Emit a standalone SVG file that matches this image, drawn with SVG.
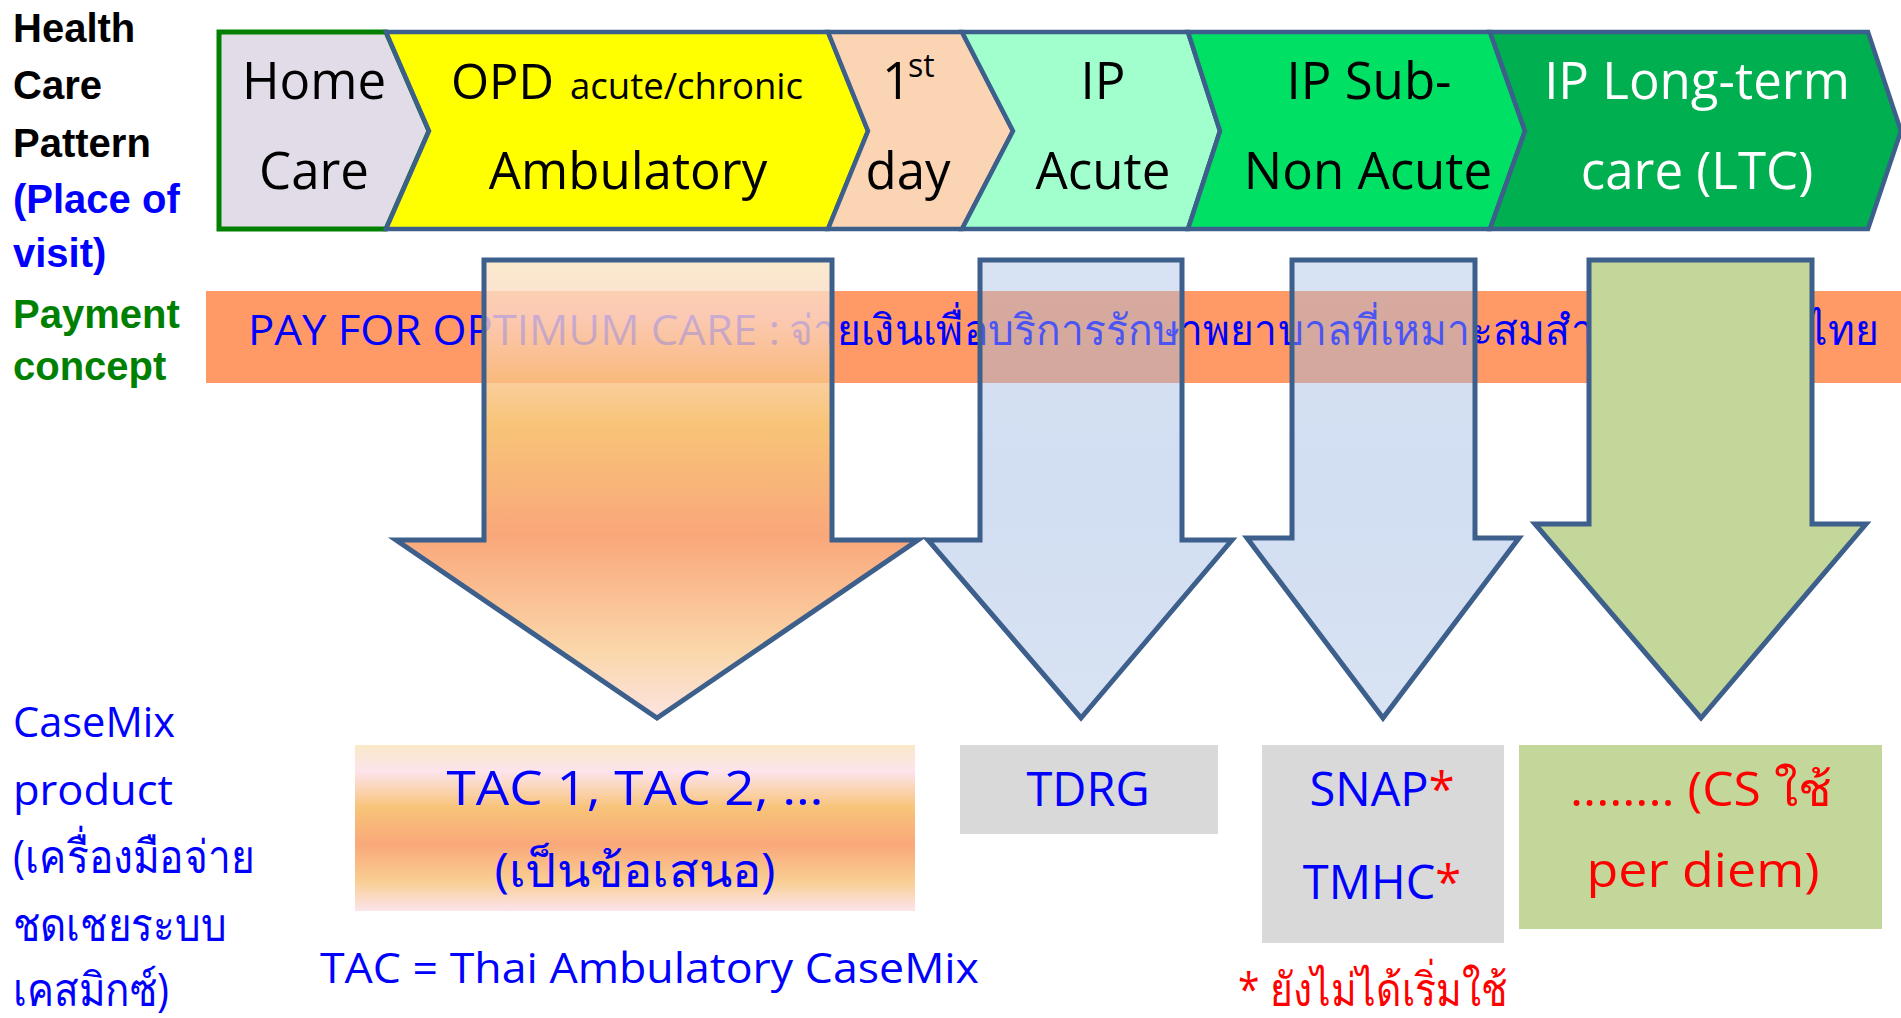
<svg xmlns="http://www.w3.org/2000/svg" width="1901" height="1018" viewBox="0 0 1901 1018">
<style>
.lbl{font-family:"Liberation Sans",Arial,"Noto Sans",sans-serif;font-weight:bold;font-size:40px}
.k{fill:#000}
.b{fill:#0000FF}
.g{fill:#008000}
.r{fill:#FF0000}
.w{fill:#FFFFFF}
.t{font-family:"Open Sans","Noto Sans","DejaVu Sans",sans-serif;font-size:51px;text-anchor:middle}
.th{font-family:"Open Sans","Noto Sans","DejaVu Sans",sans-serif;font-size:42px}
.thai{font-size:46px}
.bx{font-family:"Open Sans","Noto Sans","DejaVu Sans",sans-serif;font-size:47px;text-anchor:middle}
.chev{stroke:#3D5F8B;stroke-width:4.5;stroke-linejoin:miter}
.arr{stroke:#3D5F8B;stroke-width:5;stroke-linejoin:miter}
</style>
<defs>
<linearGradient id="gA1" x1="0" y1="260" x2="0" y2="720" gradientUnits="userSpaceOnUse">
<stop offset="0" stop-color="#F9E5C1"/>
<stop offset="0.12" stop-color="#FBD6C7"/>
<stop offset="0.36" stop-color="#F6B556"/>
<stop offset="0.6" stop-color="#F89159"/>
<stop offset="0.85" stop-color="#F9CD95"/>
<stop offset="1" stop-color="#FBDDDA"/>
</linearGradient>
<linearGradient id="gBlue" x1="0" y1="260" x2="0" y2="720" gradientUnits="userSpaceOnUse">
<stop offset="0" stop-color="#A8BFE5"/>
<stop offset="0.5" stop-color="#9AB5E1"/>
<stop offset="1" stop-color="#A9C0E5"/>
</linearGradient>
<linearGradient id="gTac" x1="0" y1="0" x2="0" y2="1">
<stop offset="0" stop-color="#FAE8C8"/>
<stop offset="0.16" stop-color="#FCE4EC"/>
<stop offset="0.38" stop-color="#F8C378"/>
<stop offset="0.6" stop-color="#F9A87A"/>
<stop offset="0.82" stop-color="#F9CE92"/>
<stop offset="1" stop-color="#FCE4EC"/>
</linearGradient>
</defs>

<g id="row-labels">
<text class="lbl k" x="13" y="42">Health</text>
<text class="lbl k" x="13" y="99">Care</text>
<text class="lbl k" x="13" y="157">Pattern</text>
<text class="lbl b" x="13" y="213">(Place of</text>
<text class="lbl b" x="13" y="267">visit)</text>
<text class="lbl g" x="13" y="328">Payment</text>
<text class="lbl g" x="13" y="380">concept</text>
</g>

<g id="casemix-label">
<text class="th b" x="13" y="737" textLength="162" lengthAdjust="spacingAndGlyphs">CaseMix</text>
<text class="th b" x="13" y="805" textLength="160" lengthAdjust="spacingAndGlyphs">product</text>
<text class="th thai b" x="13" y="873" textLength="242" lengthAdjust="spacingAndGlyphs">(เครื่องมือจ่าย</text>
<text class="th thai b" x="13" y="941" textLength="213" lengthAdjust="spacingAndGlyphs">ชดเชยระบบ</text>
<text class="th thai b" x="13" y="1006" textLength="156" lengthAdjust="spacingAndGlyphs">เคสมิกซ์)</text>
</g>

<g id="chevrons">
<g id="home-care">
<path d="M219,32 L386,32 L429,131 L386,229 L219,229 Z" fill="#E1DCE8" stroke="#008000" stroke-width="5"/>
<text class="t k" x="314" y="99">Home</text>
<text class="t k" x="314" y="189">Care</text>
</g>
<g id="opd">
<path class="chev" d="M386,32 L828,32 L868,131 L828,229 L386,229 L429,131 Z" fill="#FFFF00"/>
<text class="k" x="451" y="99" font-family="Open Sans, Noto Sans, sans-serif" font-size="49">OPD</text>
<text class="k" x="570" y="99" font-family="Open Sans, Noto Sans, sans-serif" font-size="36" textLength="233" lengthAdjust="spacingAndGlyphs">acute/chronic</text>
<text class="t k" x="628" y="189">Ambulatory</text>
</g>
<g id="first-day">
<path class="chev" d="M828,32 L962,32 L1013,131 L962,229 L828,229 L868,131 Z" fill="#FBD4B4"/>
<text class="k" x="882" y="99" font-family="Open Sans, Noto Sans, sans-serif" font-size="51">1</text>
<text class="k" x="908" y="77" font-family="Open Sans, Noto Sans, sans-serif" font-size="32">st</text>
<text class="t k" x="908" y="189">day</text>
</g>
<g id="ip-acute">
<path class="chev" d="M962,32 L1188,32 L1220,131 L1188,229 L962,229 L1013,131 Z" fill="#A0FFCC"/>
<text class="t k" x="1103" y="99">IP</text>
<text class="t k" x="1103" y="189">Acute</text>
</g>
<g id="ip-sub-non-acute">
<path class="chev" d="M1188,32 L1490,32 L1525,131 L1490,229 L1188,229 L1220,131 Z" fill="#00E064"/>
<text class="t k" x="1369" y="99">IP Sub-</text>
<text class="t k" x="1368" y="189">Non Acute</text>
</g>
<g id="ip-ltc">
<path class="chev" d="M1490,32 L1868,32 L1901,131 L1868,229 L1490,229 L1525,131 Z" fill="#00AF50"/>
<text class="t w" x="1697" y="99">IP Long-term</text>
<text class="t w" x="1697" y="189">care (LTC)</text>
</g>
</g>

<g id="payment-band">
<rect x="206" y="291" width="1695" height="92" fill="#FF9966"/>
<text class="th b" x="248" y="345" textLength="532" lengthAdjust="spacingAndGlyphs">PAY FOR OPTIMUM CARE :</text>
<text class="th b" x="789" y="345" textLength="1090" lengthAdjust="spacingAndGlyphs">จ่ายเงินเพื่อบริการรักษาพยาบาลที่เหมาะสมสำหรับประเทศไทย</text>
</g>

<g id="connectors">
<path class="arr" d="M484,260 L832,260 L832,540 L918,540 L657,718 L396,540 L484,540 Z" fill="url(#gA1)" fill-opacity="0.8"/>
<path class="arr" d="M980,260 L1182,260 L1182,540 L1232,540 L1081,718 L928,540 L980,540 Z" fill="url(#gBlue)" fill-opacity="0.45"/>
<path class="arr" d="M1292,260 L1475,260 L1475,538 L1519,538 L1383,718 L1247,538 L1292,538 Z" fill="url(#gBlue)" fill-opacity="0.45"/>
<path class="arr" d="M1589,260 L1812,260 L1812,524 L1866,524 L1701,718 L1535,524 L1589,524 Z" fill="#C4D79B"/>
</g>

<g id="tac">
<rect x="355" y="745" width="560" height="166" fill="url(#gTac)"/>
<text class="bx b" x="635" y="805" textLength="377" lengthAdjust="spacingAndGlyphs">TAC 1, TAC 2, …</text>
<text class="bx b" x="635" y="887" font-size="50" textLength="281" lengthAdjust="spacingAndGlyphs">(เป็นข้อเสนอ)</text>
</g>
<g id="tdrg">
<rect x="960" y="745" width="258" height="89" fill="#D9D9D9"/>
<text class="bx b" x="1088" y="806">TDRG</text>
</g>
<g id="snap-tmhc">
<rect x="1262" y="745" width="242" height="198" fill="#D9D9D9"/>
<text class="bx b" x="1382" y="806">SNAP<tspan class="r">*</tspan></text>
<text class="bx b" x="1382" y="899">TMHC<tspan class="r">*</tspan></text>
</g>
<g id="ltc-per-diem">
<rect x="1519" y="745" width="363" height="184" fill="#C4D79B"/>
<text class="bx r" x="1701" y="806" textLength="262" lengthAdjust="spacingAndGlyphs">........ (CS ใช้</text>
<text class="bx r" x="1703" y="887" textLength="233" lengthAdjust="spacingAndGlyphs">per diem)</text>
</g>

<g id="notes">
<text class="th b" x="320" y="983" textLength="659" lengthAdjust="spacingAndGlyphs">TAC = Thai Ambulatory CaseMix</text>
<text class="th thai r" x="1238" y="1006" textLength="269" lengthAdjust="spacingAndGlyphs">* ยังไม่ได้เริ่มใช้</text>
</g>
</svg>
